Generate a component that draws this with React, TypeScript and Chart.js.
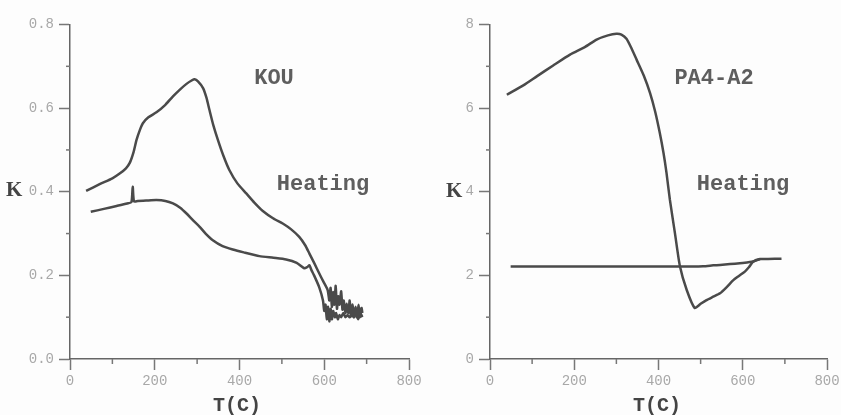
import React, { useEffect, useRef } from "react";
import { Chart, registerables } from "chart.js";

Chart.register(...registerables);

// ---- KOU (left panel) ----
const kouHeatT = [38, 70, 100, 118, 132, 141, 150, 157, 165, 172, 185, 204, 225, 243, 260, 275, 287, 294, 302, 314, 322, 329, 338, 349, 362, 376, 395, 416, 435, 455, 480, 502, 522, 541, 555, 565, 577, 588, 598, 608, 612, 615, 618, 621, 624, 627, 630, 633, 636, 640, 643, 646, 650, 653, 657, 660, 663, 667, 670, 674, 677, 681, 684, 688, 690];
const kouHeatK = [0.402, 0.418, 0.432, 0.444, 0.456, 0.469, 0.495, 0.524, 0.548, 0.564, 0.578, 0.590, 0.608, 0.628, 0.645, 0.658, 0.666, 0.669, 0.664, 0.648, 0.625, 0.596, 0.560, 0.524, 0.486, 0.452, 0.420, 0.396, 0.374, 0.354, 0.336, 0.324, 0.310, 0.292, 0.272, 0.252, 0.228, 0.205, 0.185, 0.165, 0.140, 0.170, 0.125, 0.160, 0.130, 0.175, 0.120, 0.150, 0.130, 0.162, 0.118, 0.140, 0.110, 0.132, 0.110, 0.140, 0.102, 0.130, 0.100, 0.125, 0.100, 0.130, 0.100, 0.122, 0.110];

const kouCoolT = [49, 80, 110, 135, 145, 148, 151, 160, 180, 204, 225, 243, 260, 275, 290, 306, 320, 337, 360, 384, 410, 447, 480, 510, 535, 553, 560, 565, 570, 576, 588, 597, 600, 603, 606, 609, 612, 615, 618, 621, 625, 628, 632, 636, 640, 645, 650, 655, 660, 665, 670, 675, 680, 685, 690];
const kouCoolK = [0.352, 0.359, 0.366, 0.372, 0.375, 0.412, 0.377, 0.378, 0.379, 0.380, 0.378, 0.372, 0.362, 0.348, 0.332, 0.316, 0.300, 0.284, 0.270, 0.262, 0.255, 0.246, 0.242, 0.238, 0.230, 0.217, 0.220, 0.224, 0.212, 0.200, 0.172, 0.140, 0.115, 0.130, 0.095, 0.125, 0.090, 0.120, 0.095, 0.115, 0.100, 0.110, 0.095, 0.105, 0.100, 0.110, 0.100, 0.105, 0.100, 0.105, 0.100, 0.110, 0.095, 0.110, 0.100];

// ---- PA4-A2 (right panel) ----
const paHeatT = [40, 80, 111, 150, 190, 225, 253, 280, 300, 312, 324, 335, 348, 365, 380, 392, 403, 412, 419, 427, 439, 451, 467, 486, 500, 514, 530, 546, 562, 577, 590, 605, 615, 625, 641, 660, 692];
const paHeatK = [6.32, 6.55, 6.76, 7.02, 7.28, 7.46, 7.64, 7.74, 7.78, 7.76, 7.66, 7.45, 7.16, 6.78, 6.36, 5.92, 5.41, 4.92, 4.45, 3.81, 3.01, 2.21, 1.65, 1.22, 1.32, 1.41, 1.49, 1.57, 1.72, 1.88, 1.98, 2.09, 2.20, 2.33, 2.39, 2.39, 2.40];

const paCoolT = [49, 150, 250, 350, 450, 506, 530, 546, 570, 593, 610, 625, 641];
const paCoolK = [2.21, 2.21, 2.21, 2.21, 2.21, 2.22, 2.24, 2.25, 2.27, 2.29, 2.31, 2.33, 2.39];

// ---- axis ticks ----
const xTicks = [0, 200, 400, 600, 800];
const xMinor = [100, 300, 500, 700];
const kouYTicks = [0, 0.2, 0.4, 0.6, 0.8];
const kouYMinor = [0.1, 0.3, 0.5, 0.7];
const paYTicks = [0, 2, 4, 6, 8];
const paYMinor = [1, 3, 5, 7];

const LINE = "#4a4a4a";
const MONO = "'Liberation Mono', 'DejaVu Sans Mono', monospace";

const pts = (t: number[], k: number[]) => t.map((x, i) => ({ x, y: k[i] }));

const decor = {
  id: "decor",
  afterDraw(chart: any, _a: any, opts: any) {
    const ctx = chart.ctx;
    const xs = chart.scales.x;
    const ys = chart.scales.y;
    ctx.save();
    ctx.strokeStyle = "#777";
    ctx.lineWidth = 1.5;
    (opts.xMinor || []).forEach((v: number) => {
      const px = xs.getPixelForValue(v);
      ctx.beginPath();
      ctx.moveTo(px, ys.bottom);
      ctx.lineTo(px, ys.bottom + 5);
      ctx.stroke();
    });
    (opts.yMinor || []).forEach((v: number) => {
      const py = ys.getPixelForValue(v);
      ctx.beginPath();
      ctx.moveTo(xs.left, py);
      ctx.lineTo(xs.left - 4, py);
      ctx.stroke();
    });
    (opts.texts || []).forEach((t: any) => {
      ctx.font = t.font;
      ctx.fillStyle = t.color;
      ctx.textAlign = t.align || "center";
      ctx.textBaseline = "alphabetic";
      ctx.fillText(t.text, t.x, t.y);
    });
    ctx.restore();
  },
};

function makeConfig(series: any[], yTicks: number[], yMinor: number[], yFmt: (v: number) => string, rightPad: number, texts: any[]) {
  return {
    type: "line",
    data: {
      datasets: series.map((d) => ({
        data: d,
        borderColor: LINE,
        borderWidth: 2.5,
        pointRadius: 0,
        tension: 0.2,
        fill: false,
      })),
    },
    options: {
      responsive: false,
      animation: false,
      events: [],
      layout: { padding: { top: 24.5, right: rightPad, left: 0, bottom: 0 } },
      plugins: {
        legend: { display: false },
        tooltip: { enabled: false },
        decor: { xMinor, yMinor, texts },
      },
      scales: {
        x: {
          type: "linear",
          min: 0,
          max: 800,
          afterBuildTicks: (s: any) => {
            s.ticks = xTicks.map((v) => ({ value: v }));
          },
          afterFit: (s: any) => {
            s.height = 56;
            s.paddingLeft = 0;
            s.paddingRight = 0;
          },
          border: { display: true, color: "#666", width: 1.5 },
          grid: { drawOnChartArea: false, drawTicks: true, tickLength: 11, tickColor: "#777", tickWidth: 1.5 },
          ticks: {
            color: "#a8a8a8",
            font: { family: MONO, size: 14 },
            padding: 3,
            maxRotation: 0,
            autoSkip: false,
            callback: (v: any) => String(v),
          },
        },
        y: {
          type: "linear",
          min: yTicks[0],
          max: yTicks[yTicks.length - 1],
          afterBuildTicks: (s: any) => {
            s.ticks = yTicks.map((v) => ({ value: v }));
          },
          afterFit: (s: any) => {
            s.width = 70;
            s.paddingTop = 0;
            s.paddingBottom = 0;
          },
          border: { display: true, color: "#666", width: 1.5 },
          grid: { drawOnChartArea: false, drawTicks: true, tickLength: 11, tickColor: "#777", tickWidth: 1.5 },
          ticks: {
            color: "#a8a8a8",
            font: { family: MONO, size: 14 },
            padding: 5,
            autoSkip: false,
            callback: (v: any) => yFmt(Number(v)),
          },
        },
      },
    },
    plugins: [decor],
  } as any;
}

function Panel({ left, width, config }: { left: number; width: number; config: any }) {
  const ref = useRef<HTMLCanvasElement | null>(null);
  useEffect(() => {
    if (!ref.current) return;
    const ch = new Chart(ref.current, config);
    return () => ch.destroy();
  }, []);
  return (
    <div style={{ position: "absolute", left, top: 0, width, height: 415 }}>
      <canvas ref={ref} width={width} height={415} style={{ display: "block", width, height: 415 }} />
    </div>
  );
}

const titleFont = `bold 22px ${MONO}`;
const axisFont = `bold 20px ${MONO}`;
const kFont = "bold 21px 'Liberation Serif', 'DejaVu Serif', serif";

export default function App() {
  const leftCfg = makeConfig(
    [pts(kouHeatT, kouHeatK), pts(kouCoolT, kouCoolK)],
    kouYTicks,
    kouYMinor,
    (v) => v.toFixed(1),
    21,
    [
      { text: "KOU", x: 274, y: 84, font: titleFont, color: "#5e5e5e" },
      { text: "Heating", x: 323, y: 190, font: titleFont, color: "#5e5e5e" },
      { text: "T(C)", x: 237, y: 411, font: axisFont, color: "#444" },
      { text: "K", x: 6, y: 196, font: kFont, color: "#444", align: "left" },
    ]
  );
  const rightCfg = makeConfig(
    [pts(paHeatT, paHeatK), pts(paCoolT, paCoolK)],
    paYTicks,
    paYMinor,
    (v) => String(Math.round(v)),
    14,
    [
      { text: "PA4-A2", x: 294, y: 84, font: titleFont, color: "#5e5e5e" },
      { text: "Heating", x: 323, y: 190, font: titleFont, color: "#5e5e5e" },
      { text: "T(C)", x: 237, y: 411, font: axisFont, color: "#444" },
      { text: "K", x: 26, y: 197, font: kFont, color: "#444", align: "left" },
    ]
  );
  return (
    <div style={{ position: "fixed", left: 0, top: 0, width: 841, height: 415, background: "#fdfdfd", overflow: "hidden" }}>
      <Panel left={0} width={430} config={leftCfg} />
      <Panel left={420} width={421} config={rightCfg} />
    </div>
  );
}
